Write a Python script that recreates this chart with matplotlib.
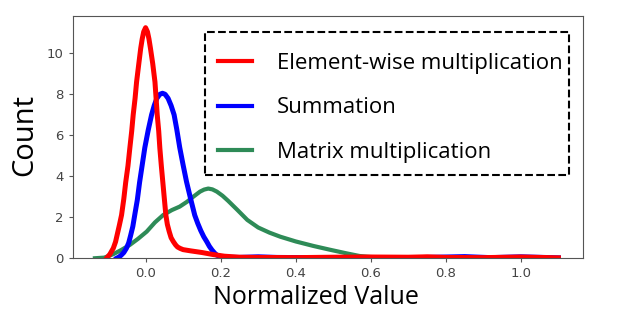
import matplotlib
matplotlib.use("Agg")
import matplotlib.pyplot as plt
from matplotlib.patches import Rectangle

# curves (density estimates)
elem_x = [-0.104, -0.095, -0.086, -0.080, -0.075, -0.070, -0.064, -0.058, -0.053, -0.047,
          -0.042, -0.037, -0.033, -0.028, -0.024, -0.018, -0.013, -0.009, -0.005, 0.0,
          0.005, 0.009, 0.013, 0.019, 0.025, 0.028, 0.031, 0.035, 0.038, 0.042,
          0.046, 0.050, 0.054, 0.058, 0.063, 0.068, 0.074, 0.080, 0.085, 0.092,
          0.10, 0.12, 0.15, 0.18, 0.21, 0.25, 0.30, 0.40, 0.50, 0.60, 0.70, 0.75,
          0.80, 0.90, 1.00, 1.10]
elem_y = [0.0, 0.2, 0.49, 0.8, 1.2, 1.6, 2.11, 2.9, 3.7, 4.5,
          5.37, 6.2, 7.0, 7.8, 8.6, 9.5, 10.24, 10.7, 11.05, 11.25,
          11.05, 10.7, 10.24, 9.5, 8.6, 7.8, 7.0, 6.2, 5.37, 4.5,
          3.7, 2.9, 2.11, 1.65, 1.3, 1.0, 0.81, 0.65, 0.55, 0.48,
          0.42, 0.36, 0.28, 0.18, 0.10, 0.05, 0.04, 0.03, 0.05, 0.06, 0.05, 0.07,
          0.04, 0.03, 0.06, 0.02]

sum_x = [-0.077, -0.070, -0.065, -0.058, -0.051, -0.045, -0.040, -0.034, -0.029, -0.022,
         -0.016, -0.009, -0.002, 0.007, 0.016, 0.023, 0.030, 0.038, 0.045, 0.052,
         0.060, 0.068, 0.076, 0.083, 0.091, 0.100, 0.109, 0.120, 0.131, 0.139,
         0.147, 0.155, 0.163, 0.170, 0.177, 0.184, 0.190, 0.200, 0.21, 0.25,
         0.30, 0.35, 0.50, 0.70, 0.85, 0.92, 1.00, 1.10]
sum_y = [0.0, 0.07, 0.15, 0.28, 0.49, 0.75, 1.1, 1.55, 2.1, 2.85,
         3.7, 4.55, 5.4, 6.25, 7.0, 7.45, 7.8, 8.0, 8.05, 8.0,
         7.8, 7.45, 7.0, 6.3, 5.4, 4.55, 3.74, 2.9, 2.1, 1.7,
         1.35, 1.05, 0.81, 0.58, 0.4, 0.25, 0.15, 0.08, 0.05, 0.04,
         0.07, 0.04, 0.02, 0.02, 0.08, 0.03, 0.07, 0.02]

mat_x = [-0.135, -0.11, -0.086, -0.065, -0.042, -0.02, 0.003, 0.025, 0.047, 0.07,
         0.091, 0.11, 0.127, 0.145, 0.156, 0.167, 0.178, 0.19, 0.205, 0.22,
         0.245, 0.271, 0.30, 0.33, 0.359, 0.40, 0.447, 0.49, 0.535, 0.57,
         0.60, 0.65, 0.80, 1.00, 1.10]
mat_y = [0.0, 0.03, 0.2, 0.4, 0.65, 0.95, 1.3, 1.75, 2.11, 2.35,
         2.52, 2.75, 3.0, 3.25, 3.35, 3.4, 3.36, 3.25, 3.05, 2.8,
         2.35, 1.87, 1.5, 1.25, 1.05, 0.82, 0.6, 0.42, 0.24, 0.11,
         0.06, 0.03, 0.02, 0.02, 0.01]

labels = ["Element-wise multiplication", "Summation", "Matrix multiplication"]
xticks = [0.0, 0.2, 0.4, 0.6, 0.8, 1.0]
yticks = [0, 2, 4, 6, 8, 10]

W, H = 622, 320
fig = plt.figure(figsize=(6.22, 3.2), dpi=100)
ax = fig.add_axes([0.117, 0.193, 0.82, 0.757])

ax.plot(mat_x, mat_y, color="#2e8b57", lw=3.0, label=labels[2])
ax.plot(sum_x, sum_y, color="#0000ff", lw=3.6, label=labels[1])
ax.plot(elem_x, elem_y, color="#ff0000", lw=3.6, label=labels[0])

ax.set_xlim(-0.194, 1.165)
ax.set_ylim(0, 11.82)
ax.set_xticks(xticks)
ax.set_yticks(yticks)
ax.tick_params(labelsize=9.5, labelcolor="#444444", color="#555555", length=3)
for s in ax.spines.values():
    s.set_color("#555555")

ax.set_xlabel("Normalized Value", fontsize=18, family="Open Sans")
ax.xaxis.set_label_coords(0.476, -0.11)
ax.set_ylabel("Count", fontsize=21, family="Open Sans")
ax.yaxis.set_label_coords(-0.066, 0.51)

# dashed legend box, drawn separately so its size matches the original
box = Rectangle((205 / W, 1 - 175 / H), 364 / W, 143 / H, transform=fig.transFigure,
                fill=True, facecolor="white", edgecolor="black", linestyle="--", lw=1.5, zorder=5)
fig.patches.append(box)

h, l = ax.get_legend_handles_labels()
leg = fig.legend(h[::-1], l[::-1], loc="upper left", bbox_to_anchor=(218 / W, 1 - 53 / H),
                 frameon=False, borderpad=0, borderaxespad=0,
                 handlelength=1.55, handletextpad=1.1, labelspacing=1.05,
                 prop={"family": "Open Sans", "size": 16})
leg.set_zorder(6)
for line in leg.get_lines():
    line.set_linewidth(3.0)

fig.savefig("out.png", dpi=100)
